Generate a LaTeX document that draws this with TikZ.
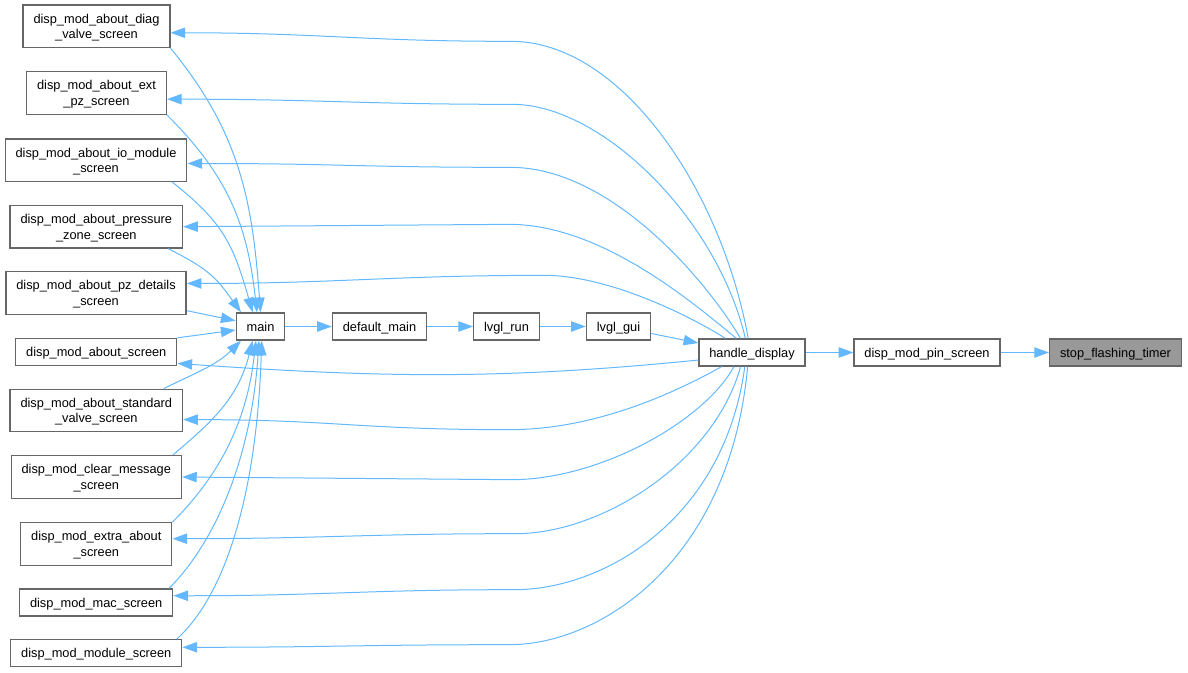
\documentclass[tikz,border=0pt]{standalone}
\usepackage{fontspec}
\setmainfont{Liberation Sans}
\usetikzlibrary{arrows.meta}

\definecolor{edgeblue}{HTML}{63B8FF}
\definecolor{boxgrey}{HTML}{666666}
\definecolor{focusgrey}{HTML}{999999}

\tikzset{
  fn/.style={draw=boxgrey, line width=1pt, fill=white, inner xsep=7.8pt, inner ysep=2pt,
    minimum height=20.25pt, text height=7pt, text depth=0pt, font=\fontsize{9.6}{11.6}\selectfont},
  fntwo/.style={fn, text height=, align=center, minimum height=31.9pt},
  call/.style={draw=edgeblue, line width=0.75pt, -{Triangle[length=11pt,width=7.8pt]}}
}

\begin{document}
\begin{tikzpicture}[x=0.75pt, y=-0.75pt]

      \useasboundingbox (0,0) rectangle (1188,672);

      % Screens
      \node[fntwo] (diagvalve) at (96.5,26.3) {disp\_mod\_about\_diag\\\_valve\_screen};
      \node[fntwo] (extpz) at (96.5,93) {disp\_mod\_about\_ext\\\_pz\_screen};
      \node[fntwo] (iomodule) at (96,160.3) {disp\_mod\_about\_io\_module\\\_screen};
      \node[fntwo] (pressurezone) at (96.3,226.7) {disp\_mod\_about\_pressure\\\_zone\_screen};
      \node[fntwo] (pzdetails) at (96,293) {disp\_mod\_about\_pz\_details\\\_screen};
      \node[fn] (aboutscr) at (96.3,352) {disp\_mod\_about\_screen};
      \node[fntwo] (stdvalve) at (96.3,410.5) {disp\_mod\_about\_standard\\\_valve\_screen};
      \node[fntwo] (clearmsg) at (96.3,477) {disp\_mod\_clear\_message\\\_screen};
      \node[fntwo] (extraabout) at (96.3,544) {disp\_mod\_extra\_about\\\_screen};
      \node[fn] (macscr) at (96.2,602.5) {disp\_mod\_mac\_screen};
      \node[fn] (modulescr) at (96.3,653.3) {disp\_mod\_module\_screen};

      % Call chain
      \node[fn] (mainfn) at (260.5,326.5) {main};
      \node[fn] (defaultmain) at (379.5,326.5) {default\_main};
      \node[fn] (lvglrun) at (506.5,326.5) {lvgl\_run};
      \node[fn] (lvglgui) at (618.5,326.5) {lvgl\_gui};
      \node[fn] (handledisp) at (752,352.5) {handle\_display};
      \node[fn] (pinscr) at (927,352.5) {disp\_mod\_pin\_screen};
      \node[fn, fill=focusgrey] (stoptimer) at (1115.5,352.5) {stop\_flashing\_timer};

      \draw[call] (mainfn) -- (defaultmain);
      \draw[call] (defaultmain) -- (lvglrun);
      \draw[call] (lvglrun) -- (lvglgui);
      \draw[call] (lvglgui.-12) -- (handledisp.170);
      \draw[call] (handledisp) -- (pinscr);
      \draw[call] (pinscr) -- (stoptimer);

      % handle_display to screens
      \draw[call] (handledisp.105) .. controls +(-27,-149) and +(110,0) .. ++(-237,-297)
        .. controls +(-150,0) and +(150,0) .. (diagvalve.-5);
      \draw[call] (handledisp.115) .. controls +(-28,-119) and +(90,0) .. ++(-233,-234)
        .. controls +(-150,0) and +(150,0) .. (extpz.-5);
      \draw[call] (handledisp.129) .. controls +(-35,-59) and +(100,0) .. ++(-230,-171)
        .. controls +(-150,0) and +(150,0) .. (iomodule.-2);
      \draw[call] (handledisp.138) .. controls +(-47,-39) and +(90,0) .. ++(-227,-114)
        -- (pressurezone.east);
      \draw[call] (handledisp.152) .. controls +(-38,-24) and +(63,0) .. ++(-181,-63)
        .. controls +(-150,0) and +(150,0) .. (pzdetails.6);
      \draw[call] (handledisp.188) .. controls +(-200,20) and +(200,14) .. (aboutscr.-8);
      \draw[call] (handledisp.-155) .. controls +(-45,25) and +(87,0) .. ++(-212,63)
        .. controls +(-150,0) and +(150,0) .. (stdvalve.-6);
      \draw[call] (handledisp.-142) .. controls +(-30,55) and +(87,0) .. ++(-222,113)
        -- (clearmsg.east);
      \draw[call] (handledisp.-129) .. controls +(-26,95) and +(87,0) .. ++(-225,167)
        .. controls +(-150,0) and +(150,0) .. (extraabout.4);
      \draw[call] (handledisp.-117) .. controls +(-21,155) and +(87,0) .. ++(-230,223)
        .. controls +(-150,0) and +(150,0) .. (macscr.5);
      \draw[call] (handledisp.-107) .. controls +(-18,195) and +(90,0) .. ++(-238,278)
        .. controls +(-150,0) and +(150,0) .. (modulescr.4);

      % Screens to main
      \draw[call] (diagvalve.south east) .. controls +(70,85) and +(-8,-110) .. (mainfn.90);
      \draw[call] (extpz.south east) .. controls +(60,60) and +(-10,-90) .. (mainfn.104);
      \draw[call] (iomodule.-16) .. controls +(50,40) and +(-20,-70) .. (mainfn.119);
      \draw[call] (pressurezone.-17) .. controls +(40,20) and +(-25,-35) .. (mainfn.144);
      \draw[call] (pzdetails.-11) -- (mainfn.167);
      \draw[call] (aboutscr.north east) -- (mainfn.188);
      \draw[call] (stdvalve.18) .. controls +(30,-15) and +(-25,25) .. (mainfn.216);
      \draw[call] (clearmsg.16) .. controls +(35,-30) and +(-15,60) .. (mainfn.-119);
      \draw[call] (extraabout.north east) .. controls +(40,-40) and +(-10,90) .. (mainfn.-108);
      \draw[call] (macscr.11) .. controls +(45,-45) and +(-8,120) .. (mainfn.-96);
      \draw[call] (modulescr.10) .. controls +(50,-45) and +(-5,150) .. (mainfn.-85);

\end{tikzpicture}
\end{document}
